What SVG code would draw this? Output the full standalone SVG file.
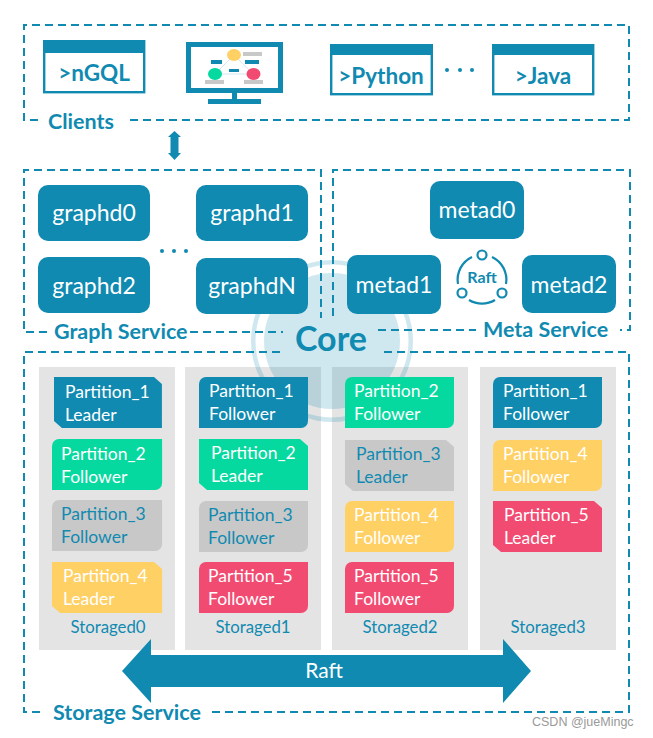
<svg xmlns="http://www.w3.org/2000/svg" width="653" height="738" viewBox="0 0 653 738">
<style>
text{font-family:"Lato","Carlito","Liberation Sans",sans-serif}
.d{fill:none;stroke:#108ab1;stroke-width:2;stroke-dasharray:8 5}
.col{fill:#e4e4e4}
.lb{fill:#108ab1;font-weight:700;font-size:21.500px}
.n{fill:#108ab1}
.nt{fill:#fff;font-size:23px;text-anchor:middle}
.w{fill:#fff;stroke:#108ab1;stroke-width:2.400}
.wh{fill:#108ab1}
.wt{fill:#108ab1;font-weight:700;font-size:22.500px;text-anchor:middle}
.pt{font-size:17.500px;fill:#fff}
.pb{fill:#108ab1}.pg{fill:#06d99f}.pa{fill:#c8c8c8}.py{fill:#ffd064}.pr{fill:#f24b72}
.st{fill:#108ab1;font-size:16.800px;text-anchor:middle}
.ft{fill:#108ab1}
</style>
<defs>
<path id="rd" d="M7 0H109V44a7 7 0 0 1-7 7H0V7a7 7 0 0 1 7-7Z"/>
<path id="sn" d="M0 0H101L109 7V51H8L0 44Z"/>
</defs>
<g id="storage-columns">
<rect class="col" x="39" y="367" width="136" height="283"/>
<rect class="col" x="185" y="367" width="136" height="283"/>
<rect class="col" x="332" y="367" width="136" height="283"/>
<rect class="col" x="480" y="367" width="136" height="283"/>
</g>
<g id="core-bg" fill="#108ab1" fill-opacity=".2">
<circle cx="332" cy="341" r="68"/>
<path fill-rule="evenodd" d="M251 341a81 81 0 1 0 162 0a81 81 0 1 0-162 0ZM255.500 341a76.500 76.500 0 1 1 153 0a76.500 76.500 0 1 1-153 0Z"/>
</g>
<g id="connectors">
<path class="d" d="M38 120H24V25H629V120H127"/>
<path class="d" d="M47 332H24V170H321V318"/>
<path class="d" d="M190 332H283"/>
<path class="d" d="M333 316V170H630V330H620"/>
<path class="d" d="M378 330H476"/>
<path class="d" d="M280 352H24V712H45"/>
<path class="d" d="M384 352H629V712H207"/>
<path id="io-arrow" class="ft" d="M174.500 131L181 137H178.500V153H181L174.500 160L168 153H170.500V137H168Z"/>
<path id="raft-arrow" class="ft" d="M122 671L151 639V655H503V639L531 671L503 703V687H151V703Z"/>
</g>
<g id="clients">
<g id="client-ngql"><rect class="w" x="44.200" y="41.200" width="100" height="51"/><rect class="wh" x="43" y="40" width="102" height="13"/><text class="wt" x="94" y="81">&gt;nGQL</text></g>
<g id="client-monitor">
<rect x="186" y="42" width="97" height="51" fill="#108ab1"/><rect x="191" y="47" width="87" height="41" fill="#fff"/>
<rect x="232" y="93" width="5" height="7" fill="#108ab1"/><rect x="208" y="99" width="53" height="5" fill="#108ab1"/>
<path d="M234 55L215 74H253.500Z" fill="none" stroke="#cfe7ef" stroke-width="1"/>
<ellipse cx="234" cy="55" rx="7" ry="6" fill="#ffd064"/><ellipse cx="215" cy="74" rx="7" ry="6" fill="#06d99f"/><ellipse cx="253.500" cy="74" rx="7" ry="6" fill="#f24b72"/>
<rect x="243" y="52" width="19" height="4" fill="#c8c8c8"/><rect x="205" y="80" width="19" height="4" fill="#c8c8c8"/><rect x="244" y="80" width="19" height="4" fill="#c8c8c8"/>
<rect x="211" y="60" width="11" height="4" fill="#108ab1"/><rect x="245" y="60" width="14" height="4" fill="#108ab1"/><rect x="229" y="69" width="10" height="3" fill="#108ab1"/>
</g>
<g id="client-python"><rect class="w" x="331.200" y="45.200" width="100.600" height="49"/><rect class="wh" x="330" y="44" width="103" height="11"/><text class="wt" x="381" y="84">&gt;Python</text></g>
<g id="client-java"><rect class="w" x="493.200" y="45.200" width="100" height="49"/><rect class="wh" x="492" y="44" width="102" height="11"/><text class="wt" x="543" y="84">&gt;Java</text></g>
<g class="ft"><circle cx="447" cy="70" r="2"/><circle cx="460" cy="70" r="2"/><circle cx="472" cy="70" r="2"/></g>
<text class="lb" x="48" y="129">Clients</text>
</g>
<g id="graph-service">
<g id="graphd0"><rect class="n" x="38" y="185" width="112" height="56" rx="10"/><text class="nt" x="94" y="221">graphd0</text></g>
<g id="graphd1"><rect class="n" x="196" y="185" width="112" height="56" rx="10"/><text class="nt" x="252" y="221">graphd1</text></g>
<g id="graphd2"><rect class="n" x="38" y="257" width="112" height="56" rx="10"/><text class="nt" x="94" y="294">graphd2</text></g>
<g id="graphdN"><rect class="n" x="196" y="258" width="112" height="56" rx="10"/><text class="nt" x="252" y="294">graphdN</text></g>
<g class="ft"><circle cx="162" cy="251" r="2"/><circle cx="174" cy="251" r="2"/><circle cx="186" cy="251" r="2"/></g>
<text class="lb" x="54" y="339">Graph Service</text>
</g>
<g id="meta-service">
<g id="metad0"><rect class="n" x="430" y="181" width="94" height="58" rx="10"/><text class="nt" x="477" y="218">metad0</text></g>
<g id="metad1"><rect class="n" x="347" y="255" width="94" height="59" rx="10"/><text class="nt" x="394" y="293">metad1</text></g>
<g id="metad2"><rect class="n" x="522" y="255" width="94" height="58" rx="10"/><text class="nt" x="569" y="293">metad2</text></g>
<g id="raft-icon" fill="none" stroke="#108ab1" stroke-width="2.200">
<circle cx="482" cy="255" r="4.500"/><circle cx="462" cy="293" r="4.500"/><circle cx="502" cy="293" r="4.500"/>
<path d="M472 257A25 25 0 0 0 458 284M492 257A25 25 0 0 1 506 284M469 300A25 25 0 0 0 495 300"/>
<text x="482" y="283" text-anchor="middle" fill="#108ab1" stroke="none" font-weight="700" font-size="16">Raft</text>
</g>
<text class="lb" x="483" y="337">Meta Service</text>
</g>
<text id="core" x="331" y="351" text-anchor="middle" fill="#108ab1" font-weight="700" font-size="34">Core</text>
<g id="storage-service">
<g id="c0-p1" transform="translate(54 377)"><use href="#sn" class="pb" transform="matrix(.99 0 0 1 0 0)"/><text class="pt" x="11" y="21">Partition_1</text><text class="pt" x="11" y="44">Leader</text></g>
<g id="c0-p2" transform="translate(52 439)"><use href="#rd" class="pg" transform="matrix(1.010 0 0 1 0 0)"/><text class="pt" x="9" y="21">Partition_2</text><text class="pt" x="9" y="44">Follower</text></g>
<g id="c0-p3" transform="translate(52 500)"><use href="#rd" class="pa" transform="matrix(1.010 0 0 1 0 0)"/><text class="pt" x="9" y="20" style="fill:#108ab1">Partition_3</text><text class="pt" x="9" y="43" style="fill:#108ab1">Follower</text></g>
<g id="c0-p4" transform="translate(52 562)"><use href="#sn" class="py" transform="matrix(1.010 0 0 1 0 0)"/><text class="pt" x="11" y="20">Partition_4</text><text class="pt" x="11" y="43">Leader</text></g>
<text class="st" x="108" y="633">Storaged0</text>
<g id="c1-p1" transform="translate(199 377)"><use href="#rd" class="pb"/><text class="pt" x="10" y="20">Partition_1</text><text class="pt" x="10" y="43">Follower</text></g>
<g id="c1-p2" transform="translate(199 439)"><use href="#sn" class="pg"/><text class="pt" x="12" y="20">Partition_2</text><text class="pt" x="12" y="43">Leader</text></g>
<g id="c1-p3" transform="translate(199 501)"><use href="#rd" class="pa"/><text class="pt" x="9" y="20" style="fill:#108ab1">Partition_3</text><text class="pt" x="9" y="43" style="fill:#108ab1">Follower</text></g>
<g id="c1-p5" transform="translate(199 562)"><use href="#rd" class="pr"/><text class="pt" x="9" y="20">Partition_5</text><text class="pt" x="9" y="43">Follower</text></g>
<text class="st" x="253" y="633">Storaged1</text>
<g id="c2-p2" transform="translate(345 377)"><use href="#rd" class="pg"/><text class="pt" x="9" y="20">Partition_2</text><text class="pt" x="9" y="43">Follower</text></g>
<g id="c2-p3" transform="translate(345 440)"><use href="#sn" class="pa"/><text class="pt" x="11" y="20" style="fill:#108ab1">Partition_3</text><text class="pt" x="11" y="43" style="fill:#108ab1">Leader</text></g>
<g id="c2-p4" transform="translate(345 501)"><use href="#rd" class="py"/><text class="pt" x="9" y="20">Partition_4</text><text class="pt" x="9" y="43">Follower</text></g>
<g id="c2-p5" transform="translate(345 562)"><use href="#rd" class="pr"/><text class="pt" x="9" y="20">Partition_5</text><text class="pt" x="9" y="43">Follower</text></g>
<text class="st" x="400" y="633">Storaged2</text>
<g id="c3-p1" transform="translate(493 377)"><use href="#rd" class="pb"/><text class="pt" x="10" y="20">Partition_1</text><text class="pt" x="10" y="43">Follower</text></g>
<g id="c3-p4" transform="translate(493 440)"><use href="#rd" class="py"/><text class="pt" x="10" y="20">Partition_4</text><text class="pt" x="10" y="43">Follower</text></g>
<g id="c3-p5" transform="translate(493 501)"><use href="#sn" class="pr"/><text class="pt" x="11" y="20">Partition_5</text><text class="pt" x="11" y="43">Leader</text></g>
<text class="st" x="548" y="633">Storaged3</text>
<text x="324" y="678" text-anchor="middle" fill="#fff" font-size="21">Raft</text>
<text class="lb" x="53" y="720">Storage Service</text>
</g>
<text x="532" y="726" fill="#999" font-size="12.500" style="font-family:'Liberation Sans',sans-serif">CSDN @jueMingc</text>
</svg>
